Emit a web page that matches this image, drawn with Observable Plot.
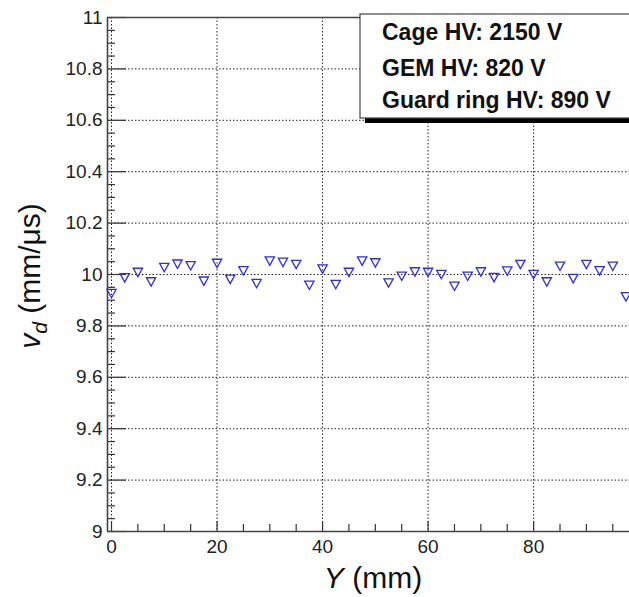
<!DOCTYPE html>
<html>
<head>
<meta charset="utf-8">
<script src="https://cdn.jsdelivr.net/npm/d3@7"></script>
<script src="https://cdn.jsdelivr.net/npm/@observablehq/plot@0.6"></script>
<style>
  html, body { margin: 0; padding: 0; background: #fff; overflow: hidden; }
  #chart svg { display: block; font-family: "Liberation Sans", Arial, sans-serif; }
</style>
</head>
<body>
<div id="chart"></div>
<script>
// ---- data ----
const yPositions = [0, 2.5, 5, 7.5, 10, 12.5, 15, 17.5, 20, 22.5, 25, 27.5, 30, 32.5, 35, 37.5, 40, 42.5, 45, 47.5,
                    50, 52.5, 55, 57.5, 60, 62.5, 65, 67.5, 70, 72.5, 75, 77.5, 80, 82.5, 85, 87.5, 90, 92.5, 95, 97.5];
const driftVelocity = [9.926, 9.987, 10.008, 9.971, 10.027, 10.040, 10.034, 9.974, 10.043, 9.981,
                       10.014, 9.965, 10.052, 10.047, 10.039, 9.958, 10.021, 9.961, 10.008, 10.052,
                       10.045, 9.967, 9.993, 10.010, 10.008, 10.000, 9.954, 9.993, 10.010, 9.988,
                       10.013, 10.039, 10.000, 9.971, 10.032, 9.984, 10.039, 10.014, 10.032, 9.913];
const xMajorTicks = [0, 20, 40, 60, 80];
const yMajorTicks = [9, 9.2, 9.4, 9.6, 9.8, 10, 10.2, 10.4, 10.6, 10.8, 11];
const legendLines = ["Cage HV: 2150 V", "GEM HV: 820 V", "Guard ring HV: 890 V"];

const xDomain = [-0.76, 98.17];
const yDomain = [9, 11];
const W = 629, H = 597;
const mL = 107, mR = 0, mT = 17, mB = 66;
const frameW = W - mL - mR, frameH = H - mT - mB;

const xMinor = d3.range(5, 100, 5).filter(v => !xMajorTicks.includes(v));
const yMinor = d3.range(9.05, 11, 0.05).map(v => +v.toFixed(2)).filter(v => !yMajorTicks.some(t => Math.abs(t - v) < 1e-6));

const data = yPositions.map((x, i) => ({x, v: driftVelocity[i]}));

const downTriangle = {
  draw(context, size) {
    const r = Math.sqrt(size / Math.PI);
    const hw = r * 1.55, hh = r * 1.4;
    context.moveTo(-hw, -hh);
    context.lineTo(hw, -hh);
    context.lineTo(0, hh);
    context.closePath();
  }
};

const gridStyle = {stroke: "#222", strokeOpacity: 1, strokeWidth: 1, strokeDasharray: "1.5,2"};

const plot = Plot.plot({
  width: W, height: H,
  marginLeft: mL, marginRight: mR, marginTop: mT, marginBottom: mB,
  x: {domain: xDomain},
  y: {domain: yDomain},
  style: {fontFamily: '"Liberation Sans", Arial, sans-serif', color: "#222", background: "white"},
  marks: [
    Plot.gridX(xMajorTicks, gridStyle),
    Plot.gridY(yMajorTicks.filter(v => v > 9 && v < 11), gridStyle),
    // inner ticks
    Plot.tickX(xMajorTicks, {x: d => d, insetTop: frameH - 10, stroke: "#333", strokeWidth: 1.2}),
    Plot.tickX(xMinor, {x: d => d, insetTop: frameH - 7, stroke: "#333", strokeWidth: 1.2}),
    Plot.tickY(yMajorTicks, {y: d => d, insetRight: frameW - 19, stroke: "#333", strokeWidth: 1.2}),
    Plot.tickY(yMinor, {y: d => d, insetRight: frameW - 8, stroke: "#333", strokeWidth: 1.2}),
    // axis lines
    Plot.ruleX([xDomain[0]], {stroke: "#444", strokeWidth: 1.6}),
    Plot.ruleY([yDomain[0], yDomain[1]], {stroke: "#444", strokeWidth: 1.6}),
    Plot.axisX(xMajorTicks, {tickSize: 0, tickPadding: 8, fontSize: 19, label: null, tickFormat: d => String(d)}),
    Plot.axisY(yMajorTicks, {tickSize: 0, tickPadding: 5, fontSize: 19, label: null, tickFormat: d => String(+d.toFixed(1))}),
    Plot.dot(data, {x: "x", y: "v", symbol: downTriangle, r: 3, fill: "none", stroke: "#2f2fd6", strokeWidth: 1.3})
  ]
});

document.getElementById("chart").appendChild(plot);

const svg = d3.select(plot);
const FONT = '"Liberation Sans", Arial, sans-serif';

// X axis title
const xt = svg.append("text")
  .attr("x", 373).attr("y", 588)
  .attr("text-anchor", "middle")
  .attr("font-size", 30).attr("fill", "#111").attr("font-family", FONT);
xt.append("tspan").attr("font-style", "italic").text("Y");
xt.append("tspan").text("\u00a0(mm)");

// Y axis title
const yt = svg.append("text")
  .attr("transform", "translate(40,276) rotate(-90)")
  .attr("text-anchor", "middle")
  .attr("font-size", 30).attr("fill", "#111").attr("font-family", FONT);
yt.append("tspan").attr("font-style", "italic").text("v");
yt.append("tspan").attr("font-style", "italic").attr("font-size", 21).attr("dy", 7).text("d");
yt.append("tspan").attr("dy", -7).text("\u00a0(mm/\u03bcs)");

// Legend box with shadow
const lx = 360, ly = 14, lw = 290, lh = 104;
svg.append("rect").attr("x", lx + 5).attr("y", ly + 5).attr("width", lw).attr("height", lh).attr("fill", "#000");
svg.append("rect").attr("x", lx).attr("y", ly).attr("width", lw).attr("height", lh)
  .attr("fill", "#fff").attr("stroke", "#444").attr("stroke-width", 1.2);
const baselines = [40, 76, 108];
legendLines.forEach((t, i) => {
  svg.append("text").attr("x", 382).attr("y", baselines[i])
    .attr("text-anchor", "start")
    .attr("font-size", 23).attr("font-weight", "bold").attr("fill", "#111")
    .attr("font-family", FONT).text(t);
});
</script>
</body>
</html>
